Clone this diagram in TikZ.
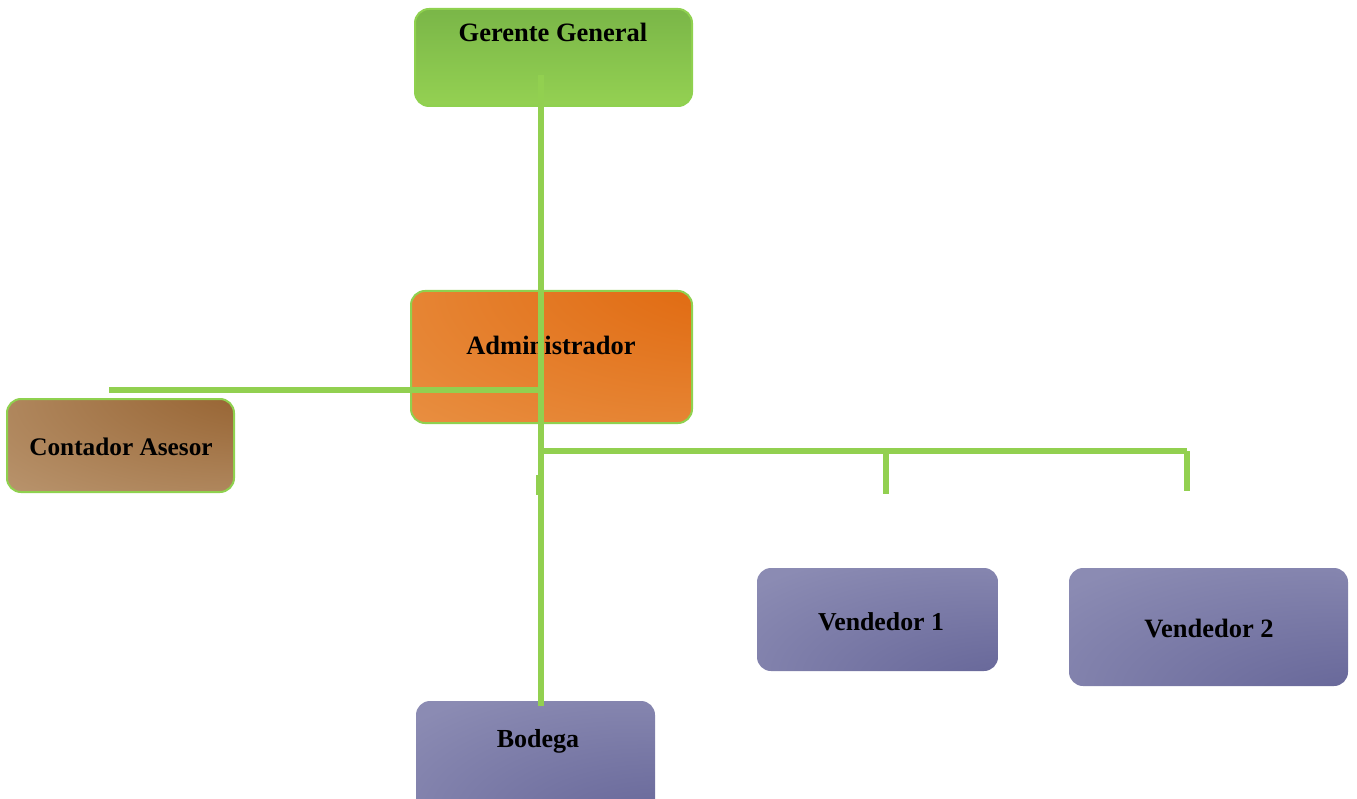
\documentclass[tikz,border=0pt]{standalone}
\usepackage{fontspec}
\setmainfont{Liberation Serif}

\definecolor{linkgreen}{HTML}{92D050}
\definecolor{edgegreen}{HTML}{8FD14F}
\definecolor{ggTop}{HTML}{7AB648}
\definecolor{ggBot}{HTML}{94D152}
\definecolor{orLight}{HTML}{E88E40}
\definecolor{orDark}{HTML}{E0680E}
\definecolor{brLight}{HTML}{B8936C}
\definecolor{brDark}{HTML}{95612F}
\definecolor{puLight}{HTML}{8B8BB3}
\definecolor{puDark}{HTML}{676799}

% glows that darken toward one corner of a box
\pgfdeclareradialshading{orangeglow}{\pgfpoint{45bp}{45bp}}{color(0bp)=(orDark); color(12bp)=(orDark); color(60bp)=(orLight); color(100bp)=(orLight)}
\pgfdeclareradialshading{brownglow}{\pgfpoint{45bp}{45bp}}{color(0bp)=(brDark); color(12bp)=(brDark); color(60bp)=(brLight); color(100bp)=(brLight)}
\pgfdeclareradialshading{purpleglow}{\pgfpoint{35bp}{-45bp}}{color(0bp)=(puDark); color(12bp)=(puDark); color(55bp)=(puLight); color(100bp)=(puLight)}

\tikzset{
  box/.style={rounded corners=14pt, inner sep=0pt},
  rimmed/.style={draw=edgegreen, line width=2pt},
  lbl/.style={font=\fontsize{26.5}{30}\selectfont\bfseries, anchor=base, inner sep=0pt},
  conn/.style={draw=linkgreen, line width=6pt},
}

\begin{document}
\begin{tikzpicture}[x=1pt,y=-1pt]
\useasboundingbox (0,0) rectangle (1357,799);
\clip (0,0) rectangle (1357,799);

% boxes
\node[box, rimmed, shade, top color=ggTop, bottom color=ggBot,
      minimum width=277pt, minimum height=97pt] (gg) at (553.5,57.5) {};
\node[box, rimmed, shade, shading=orangeglow,
      minimum width=281pt, minimum height=132pt] (adm) at (551.5,357) {};
\node[box, rimmed, shade, shading=brownglow,
      minimum width=227pt, minimum height=93pt] (cont) at (120.5,445.5) {};
\node[box, shade, shading=purpleglow,
      minimum width=239pt, minimum height=114pt] (bod) at (535.5,758) {};
\node[box, shade, shading=purpleglow,
      minimum width=241pt, minimum height=103pt] (v1) at (877.5,619.5) {};
\node[box, shade, shading=purpleglow,
      minimum width=279pt, minimum height=118pt] (v2) at (1208.5,627) {};

% titles
\node[lbl] (ggt) at (553,42) {Gerente General};
\node[lbl] (admt) at (551,355) {Administrador};
\node[lbl, font=\fontsize{25.3}{30}\selectfont\bfseries] (contt) at (121,455) {Contador Asesor};
\node[lbl, font=\fontsize{26}{30}\selectfont\bfseries] (bodt) at (538,747) {Bodega};
\node[lbl, font=\fontsize{25.8}{30}\selectfont\bfseries] (v1t) at (881,630) {Vendedor 1};
\node[lbl] (v2t) at (1209,637) {Vendedor 2};

% junctions and loose ends of the connectors
\coordinate (top) at (541,75);
\coordinate (jl) at (541,390);
\coordinate (lend) at (109,390);
\coordinate (jr) at (541,451);
\coordinate (j1) at (886,451);
\coordinate (j2) at (1187,451);
\coordinate (d1) at (886,494);
\coordinate (d2) at (1187,491);
\coordinate (s1) at (537.5,475);
\coordinate (s2) at (537.5,495);

% connectors
\draw[conn] (top) -- (bod.north -| top) -- ++(0,5);
\draw[conn] (lend) -- (jl);
\draw[conn] (jr) -- (j1) -- (j2);
\draw[conn] (j1) -- (d1);
\draw[conn] (j2) -- (d2);
\draw[draw=linkgreen, line width=4pt] (s1) -- (s2);
\end{tikzpicture}
\end{document}
